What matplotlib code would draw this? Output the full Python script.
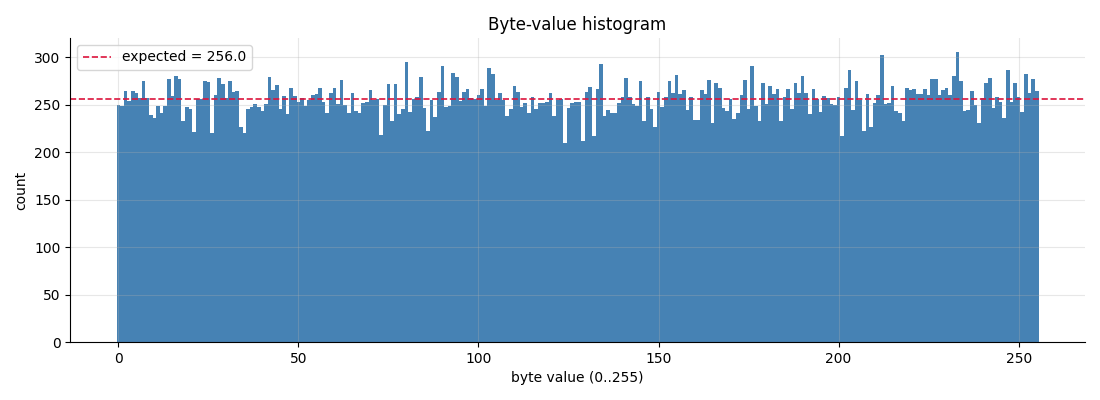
import numpy as np
import matplotlib
matplotlib.use("Agg")
import matplotlib.pyplot as plt

# histogram counts for byte values 0..255
byte_values = np.arange(256)
counts = [
    250, 249, 264, 254, 264, 262, 257, 275, 257, 239, 236, 249, 241, 249, 277, 259,
    280, 277, 233, 248, 245, 221, 256, 256, 275, 274, 220, 260, 278, 272, 257, 275,
    263, 264, 227, 220, 245, 248, 251, 248, 243, 251, 279, 265, 271, 245, 259, 240,
    268, 259, 253, 257, 249, 255, 260, 261, 268, 253, 241, 262, 268, 251, 276, 250,
    241, 262, 243, 241, 252, 253, 265, 255, 256, 218, 250, 272, 233, 272, 240, 245,
    295, 242, 256, 258, 279, 246, 222, 255, 237, 263, 291, 248, 249, 283, 279, 254,
    263, 267, 257, 256, 260, 266, 249, 289, 282, 255, 262, 255, 238, 245, 270, 263,
    248, 252, 241, 258, 245, 252, 252, 253, 262, 238, 255, 256, 210, 247, 252, 253,
    253, 212, 263, 269, 217, 266, 293, 238, 244, 241, 241, 252, 258, 278, 258, 251,
    249, 275, 233, 258, 245, 227, 263, 248, 258, 275, 262, 281, 261, 265, 244, 258,
    234, 234, 265, 261, 276, 231, 273, 268, 247, 243, 256, 235, 241, 260, 276, 245,
    291, 249, 233, 273, 251, 270, 261, 266, 233, 258, 266, 245, 273, 262, 280, 262,
    240, 266, 256, 242, 259, 257, 251, 250, 258, 217, 268, 287, 244, 275, 255, 222,
    261, 227, 252, 260, 302, 251, 252, 270, 243, 241, 233, 268, 265, 266, 261, 261,
    266, 260, 277, 277, 260, 265, 268, 260, 280, 305, 275, 243, 244, 264, 250, 231,
    257, 273, 278, 246, 258, 253, 236, 287, 253, 273, 258, 242, 282, 262, 277, 264,
]
expected = 256.0

fig, ax = plt.subplots(figsize=(11, 4), dpi=100)
fig.subplots_adjust(left=0.064, right=0.986, top=0.905, bottom=0.145)

ax.bar(byte_values, counts, width=1.0, color="steelblue", linewidth=0)
ax.axhline(expected, color="crimson", linestyle="--", linewidth=1.2,
           label="expected = {}".format(expected))

ax.set_title("Byte-value histogram")
ax.set_xlabel("byte value (0..255)")
ax.set_ylabel("count")
ax.grid(alpha=0.3)
ax.spines["top"].set_visible(False)
ax.spines["right"].set_visible(False)
ax.legend(loc="upper left")

plt.savefig("out.png")
